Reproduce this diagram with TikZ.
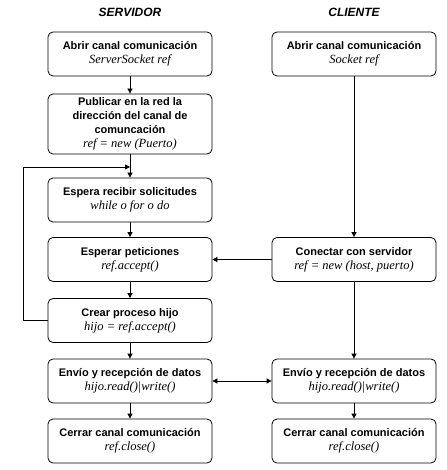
\documentclass[tikz,border=0pt]{standalone}
\usepackage{fontspec}
\setmainfont{Liberation Serif}
\setsansfont{Liberation Sans}
\usetikzlibrary{arrows.meta}
\newcommand{\codigo}[1]{{\fontsize{12.5}{16}\selectfont\rmfamily\mdseries\itshape #1}}
\begin{document}
\begin{tikzpicture}[x=1pt, y=-1pt, line width=0.8pt,
  >={Triangle[length=5pt,width=5pt]},
  caja/.style={draw, rounded corners=5pt, minimum width=164pt, minimum height=44pt,
    inner sep=2pt, align=center, font=\fontsize{11}{14}\selectfont\sffamily\bfseries},
  titulo/.style={font=\fontsize{12}{14}\selectfont\sffamily\bfseries\itshape}]
\useasboundingbox (0,0) rectangle (446,470);

% columnas
\node[titulo] (tserv) at (130,12) {SERVIDOR};
\node[titulo] (tcli) at (354,12) {CLIENTE};

% servidor
\node[caja] (s1) at (130,54) {Abrir canal comunicación\\\codigo{ServerSocket ref}};
\node[caja, minimum height=60pt] (s2) at (130,124) {Publicar en la red la\\dirección del canal de\\comuncación\\\codigo{ref = new (Puerto)}};
\node[caja] (s3) at (130,200) {Espera recibir solicitudes\\\codigo{while o for o do}};
\node[caja] (s4) at (130,259.5) {Esperar peticiones\\\codigo{ref.accept()}};
\node[caja] (s5) at (130,320.5) {Crear proceso hijo\\\codigo{hijo = ref.accept()}};
\node[caja] (s6) at (130,381) {Envío y recepción de datos\\\codigo{hijo.read()|write()}};
\node[caja] (s7) at (130,441) {Cerrar canal comunicación\\\codigo{ref.close()}};

% cliente
\node[caja] (c1) at (354,54) {Abrir canal comunicación\\\codigo{Socket ref}};
\node[caja] (c2) at (354,259.5) {Conectar con servidor\\\codigo{ref = new (host, puerto)}};
\node[caja] (c6) at (354,381) {Envío y recepción de datos\\\codigo{hijo.read()|write()}};
\node[caja] (c7) at (354,441) {Cerrar canal comunicación\\\codigo{ref.close()}};

\draw[->] (s1) -- (s2);
\draw[->] (s2) -- (s3);
\draw[->] (s3) -- (s4);
\draw[->] (s4) -- (s5);
\draw[->] (s5) -- (s6);
\draw[->] (s6) -- (s7);

\draw[->] (c1) -- (c2);
\draw[->] (c2) -- (s4);
\draw[->] (c2) -- (c6);
\draw[->] (c6) -- (c7);
\draw[<->] (s6) -- (c6);

% bucle
\coordinate (retorno) at (130,167);
\draw[->] (s5.west) -- ++(-24,0) |- (retorno);

\end{tikzpicture}
\end{document}
